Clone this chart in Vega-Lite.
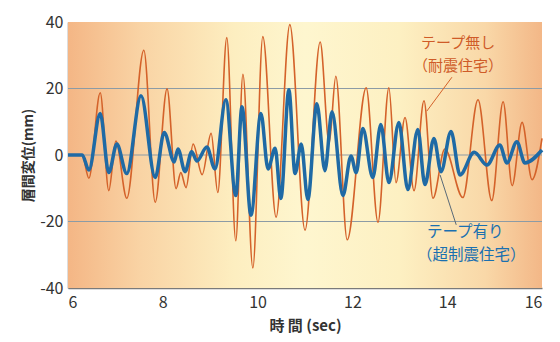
{
  "$schema": "https://vega.github.io/schema/vega-lite/v6.json",
  "width": 474,
  "height": 266,
  "autosize": "none",
  "padding": {"left": 68, "top": 22, "right": 18, "bottom": 54},
  "background": "#ffffff",
  "config": {
    "view": {"stroke": null},
    "font": "Noto Sans CJK JP"
  },
  "data": {"values": [{}]},
  "datasets": {
    "orange": [
      {"t": 6.0, "v": 0}, {"t": 6.30, "v": 0}, {"t": 6.44, "v": -7}, {"t": 6.68, "v": 18.7},
      {"t": 6.86, "v": -10.7}, {"t": 7.01, "v": 4.2}, {"t": 7.24, "v": -13}, {"t": 7.60, "v": 31.5},
      {"t": 7.84, "v": -14.2}, {"t": 8.09, "v": 19.9}, {"t": 8.28, "v": -10.1}, {"t": 8.38, "v": -5.3},
      {"t": 8.49, "v": -9.8}, {"t": 8.64, "v": 3.3}, {"t": 8.83, "v": -5.9}, {"t": 9.02, "v": 6.5},
      {"t": 9.16, "v": -11.3}, {"t": 9.35, "v": 35.3}, {"t": 9.54, "v": -25.8}, {"t": 9.69, "v": 24.3},
      {"t": 9.90, "v": -34}, {"t": 10.11, "v": 35.6}, {"t": 10.39, "v": -18.7}, {"t": 10.68, "v": 39.2},
      {"t": 11.0, "v": -22.6}, {"t": 11.32, "v": 34}, {"t": 11.51, "v": 3.6}, {"t": 11.65, "v": 23.7},
      {"t": 11.89, "v": -25.5}, {"t": 12.29, "v": 20.2}, {"t": 12.54, "v": -20.2}, {"t": 12.77, "v": 20.2},
      {"t": 12.92, "v": -8.3}, {"t": 13.11, "v": 11.3}, {"t": 13.30, "v": -10.7}, {"t": 13.51, "v": 16.3},
      {"t": 13.70, "v": -13}, {"t": 13.95, "v": 1.8}, {"t": 14.33, "v": -12.8}, {"t": 14.65, "v": 16.6},
      {"t": 14.94, "v": -13.7}, {"t": 15.18, "v": 16}, {"t": 15.37, "v": -9.2}, {"t": 15.58, "v": 9.8},
      {"t": 15.79, "v": -7.4}, {"t": 16.0, "v": 5}
    ],
    "blue": [
      {"t": 6.0, "v": 0}, {"t": 6.30, "v": 0}, {"t": 6.44, "v": -4.5}, {"t": 6.68, "v": 12.5},
      {"t": 6.86, "v": -5.3}, {"t": 7.03, "v": 3.3}, {"t": 7.24, "v": -5.6}, {"t": 7.54, "v": 17.8},
      {"t": 7.84, "v": -6.8}, {"t": 8.03, "v": 6.8}, {"t": 8.24, "v": -2.1}, {"t": 8.32, "v": 1.8},
      {"t": 8.47, "v": -5}, {"t": 8.61, "v": 1}, {"t": 8.72, "v": -1.8}, {"t": 8.93, "v": 2.4},
      {"t": 9.10, "v": -4.2}, {"t": 9.33, "v": 16.6}, {"t": 9.54, "v": -12.2}, {"t": 9.67, "v": 14.5},
      {"t": 9.86, "v": -18.1}, {"t": 10.07, "v": 12.5}, {"t": 10.22, "v": -4.2}, {"t": 10.37, "v": 2},
      {"t": 10.49, "v": -13.1}, {"t": 10.66, "v": 19.6}, {"t": 10.79, "v": -5.6}, {"t": 10.92, "v": 3.3},
      {"t": 11.06, "v": -13.4}, {"t": 11.25, "v": 15.4}, {"t": 11.42, "v": -4.7}, {"t": 11.57, "v": 13},
      {"t": 11.80, "v": -12.2}, {"t": 11.97, "v": -0.3}, {"t": 12.08, "v": -5.3}, {"t": 12.22, "v": 8},
      {"t": 12.43, "v": -6.8}, {"t": 12.60, "v": 9.2}, {"t": 12.77, "v": -8.3}, {"t": 12.98, "v": 9.8},
      {"t": 13.17, "v": -10.4}, {"t": 13.38, "v": 7.7}, {"t": 13.53, "v": -8.9}, {"t": 13.72, "v": 5},
      {"t": 13.87, "v": -5}, {"t": 14.08, "v": 7.1}, {"t": 14.27, "v": -6}, {"t": 14.57, "v": 0.8},
      {"t": 14.84, "v": -3}, {"t": 15.11, "v": 3}, {"t": 15.26, "v": -2.4}, {"t": 15.47, "v": 4},
      {"t": 15.64, "v": -2.4}, {"t": 16.0, "v": 1.5}
    ]
  },
  "layer": [
    {
      "mark": {
        "type": "rect",
        "fill": {
          "gradient": "linear", "x1": 0, "y1": 0.3, "x2": 1, "y2": 0.3,
          "stops": [
            {"offset": 0, "color": "#f4b685"},
            {"offset": 0.15, "color": "#f9d3a4"},
            {"offset": 0.35, "color": "#fdeec0"},
            {"offset": 0.5, "color": "#fef6cf"},
            {"offset": 0.7, "color": "#fdf0c2"},
            {"offset": 0.88, "color": "#f9d8a8"},
            {"offset": 1, "color": "#f3b787"}
          ]
        }
      },
      "encoding": {
        "x": {
          "datum": 6, "type": "quantitative",
          "scale": {"domain": [6, 16], "nice": false, "zero": false},
          "axis": {
            "values": [6, 8, 10, 12, 14, 16], "ticks": false, "grid": false,
            "domainColor": "#7a7a7a", "domainWidth": 1.5,
            "labelFontSize": 16, "labelColor": "#333333", "labelPadding": 6,
            "title": "時 間 (sec)", "titleFontSize": 15, "titleColor": "#333333",
            "titleFontWeight": "bold", "titlePadding": 8
          }
        },
        "x2": {"datum": 16},
        "y": {
          "datum": -40, "type": "quantitative",
          "scale": {"domain": [-40, 40], "nice": false},
          "axis": {
            "values": [-40, -20, 0, 20, 40], "ticks": false, "grid": false,
            "labelExpr": "'' + datum.value",
            "domainColor": "#7a7a7a", "domainWidth": 1.5,
            "labelFontSize": 16, "labelColor": "#333333", "labelPadding": 5,
            "title": "層間変位(mm)", "titleFontSize": 14, "titleColor": "#333333",
            "titleFontWeight": "bold", "titlePadding": 4
          }
        },
        "y2": {"datum": 40}
      }
    },
    {"mark": {"type": "rule", "color": "#8c9ba5", "strokeWidth": 1}, "encoding": {"y": {"datum": 20, "type": "quantitative"}}},
    {"mark": {"type": "rule", "color": "#8c9ba5", "strokeWidth": 1}, "encoding": {"y": {"datum": 0, "type": "quantitative"}}},
    {"mark": {"type": "rule", "color": "#8c9ba5", "strokeWidth": 1}, "encoding": {"y": {"datum": -20, "type": "quantitative"}}},
    {
      "data": {"name": "orange"},
      "mark": {"type": "line", "color": "#d4622a", "strokeWidth": 1.6, "interpolate": "monotone"},
      "encoding": {
        "x": {"field": "t", "type": "quantitative"},
        "y": {"field": "v", "type": "quantitative"}
      }
    },
    {
      "data": {"name": "blue"},
      "mark": {"type": "line", "color": "#1f6aa5", "strokeWidth": 3.5, "interpolate": "monotone"},
      "encoding": {
        "x": {"field": "t", "type": "quantitative"},
        "y": {"field": "v", "type": "quantitative"}
      }
    },
    {
      "mark": {"type": "rule", "color": "#d4622a", "strokeWidth": 1},
      "encoding": {
        "x": {"datum": 14.1, "type": "quantitative"}, "y": {"datum": 23.4, "type": "quantitative"},
        "x2": {"datum": 13.57}, "y2": {"datum": 13.2}
      }
    },
    {
      "mark": {"type": "rule", "color": "#5a6a78", "strokeWidth": 1},
      "encoding": {
        "x": {"datum": 13.85, "type": "quantitative"}, "y": {"datum": -6.0, "type": "quantitative"},
        "x2": {"datum": 14.19}, "y2": {"datum": -21}
      }
    },
    {
      "mark": {"type": "text", "text": "テープ無し", "color": "#cf5b28", "fontSize": 15, "align": "center", "baseline": "middle"},
      "encoding": {"x": {"datum": 14.23, "type": "quantitative"}, "y": {"datum": 33.7, "type": "quantitative"}}
    },
    {
      "mark": {"type": "text", "text": "（耐震住宅）", "color": "#cf5b28", "fontSize": 15, "align": "center", "baseline": "middle"},
      "encoding": {"x": {"datum": 14.23, "type": "quantitative"}, "y": {"datum": 26.9, "type": "quantitative"}}
    },
    {
      "mark": {"type": "text", "text": "テープ有り", "color": "#1a70b0", "fontSize": 15.5, "align": "center", "baseline": "middle"},
      "encoding": {"x": {"datum": 14.38, "type": "quantitative"}, "y": {"datum": -23.3, "type": "quantitative"}}
    },
    {
      "mark": {"type": "text", "text": "（超制震住宅）", "color": "#1a70b0", "fontSize": 15.5, "align": "center", "baseline": "middle"},
      "encoding": {"x": {"datum": 14.51, "type": "quantitative"}, "y": {"datum": -30.2, "type": "quantitative"}}
    }
  ]
}
